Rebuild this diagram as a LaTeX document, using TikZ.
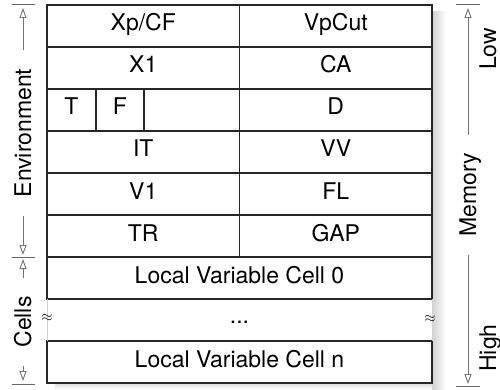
\documentclass[tikz,border=0pt]{standalone}
\usepackage{fontspec}
\setmainfont{TeX Gyre Heros}
\usetikzlibrary{arrows.meta}
\begin{document}
\begin{tikzpicture}[x=1pt,y=-1pt,
  cellline/.style={draw=black!85, line width=1.1pt},
  celltext/.style={font=\fontsize{23}{27}\selectfont, anchor=base, inner sep=0pt},
  sidetext/.style={font=\fontsize{23}{27}\selectfont, rotate=90, text height=16pt, text depth=0pt, inner ysep=0pt, inner xsep=18pt},
  gauge/.style={draw=black!55, line width=1pt},
  gaugetip/.style={gauge, -{Triangle[open, length=10pt, width=7pt, line width=0.9pt]}},
  tickmark/.style={draw=black!60, line width=1pt},
  breakmark/.style={font=\fontsize{15}{15}\selectfont, inner sep=0pt}
]
\useasboundingbox (0,0) rectangle (500,390);

% soft shadow of the frame
\shade[left color=black!18, right color=white] (432,12) rectangle (446,390);
\shade[top color=black!14, bottom color=white] (55,383) rectangle (432,390);

% frame: environment rows
\fill[white] (47,5) rectangle (432,299);
\fill[white] (47,341) rectangle (432,383);
\draw[cellline] (47,5) rectangle (432,257);
\foreach \yy in {47,89,131,173,215}
  \draw[cellline] (47,\yy) -- (432,\yy);
\draw[cellline] (239.5,5) -- (239.5,257);
\draw[cellline] (96,89) -- (96,131);
\draw[cellline] (144,89) -- (144,131);

% frame: local variable cells
\draw[cellline] (47,257) rectangle (432,299);
\draw[cellline] (47,341) rectangle (432,383);
\draw[black!18, line width=0.8pt] (47,299) -- (47,341);
\draw[black!18, line width=0.8pt] (432,299) -- (432,341);

% cell labels
\node[celltext] (xpcf)  at (143.25,31) {Xp/CF};
\node[celltext] (vpcut) at (335.75,31) {VpCut};
\node[celltext] (xone)  at (143.25,73) {X1};
\node[celltext] (ca)    at (335.75,73) {CA};
\node[celltext] (tcell) at (71.5,115) {T};
\node[celltext] (fcell) at (120,115) {F};
\node[celltext] (dcell) at (335.75,115) {D};
\node[celltext] (it)    at (143.25,157) {IT};
\node[celltext] (vv)    at (335.75,157) {VV};
\node[celltext] (vone)  at (143.25,199) {V1};
\node[celltext] (fl)    at (335.75,199) {FL};
\node[celltext] (tr)    at (143.25,241) {TR};
\node[celltext] (gap)   at (335.75,241) {GAP};
\node[celltext] (lvz)   at (239.5,283) {Local Variable Cell 0};
\node[celltext] (dots)  at (239.5,323) {...};
\node[celltext] (lvn)   at (239.5,367) {Local Variable Cell n};

% break marks
\node[breakmark] (brkl) at (47,318) {$\approx$};
\node[breakmark] (brkr) at (430,319) {$\approx$};

% left gauges
\draw[tickmark] (12,5) -- (35,5);
\draw[tickmark] (12,257) -- (35,257);
\draw[tickmark] (12,384) -- (35,384);
\coordinate (envtop) at (23,8);
\coordinate (envbot) at (23,255);
\coordinate (celtop) at (23,259);
\coordinate (celbot) at (23,381);
\node[sidetext] (env) at (23,133) {Environment};
\node[sidetext] (cells) at (23,322) {Cells};
\draw[gaugetip] (env) -- (envtop);
\draw[gaugetip] (env) -- (envbot);
\draw[gaugetip] (cells) -- (celtop);
\draw[gaugetip] (cells) -- (celbot);

% right gauge
\draw[tickmark] (456,5) -- (480,5);
\draw[tickmark] (456,386) -- (480,386);
\coordinate (memtop) at (468,8);
\coordinate (membot) at (468,384);
\node[sidetext] (mem) at (468,195) {Memory};
\draw[gaugetip] (mem) -- (memtop);
\draw[gaugetip] (mem) -- (membot);
\node[sidetext, inner xsep=0pt] (low) at (488,49) {Low};
\node[sidetext, inner xsep=0pt] (high) at (488,348) {High};
\end{tikzpicture}
\end{document}
